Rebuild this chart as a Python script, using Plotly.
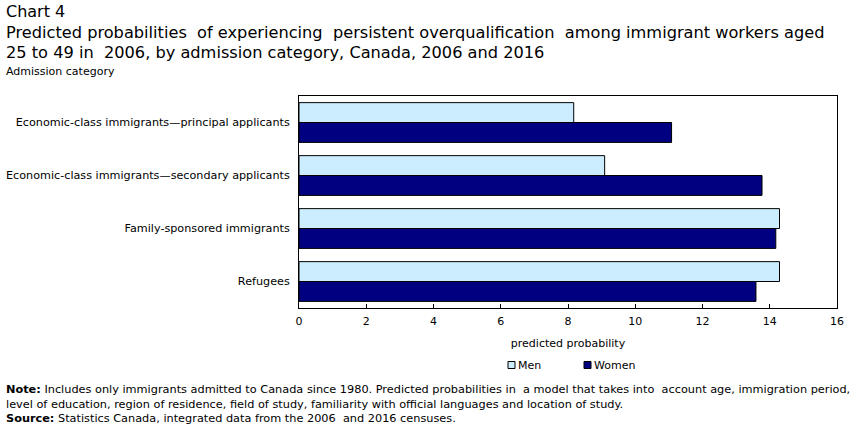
import plotly.graph_objects as go

categories = [
    "Economic-class immigrants—principal applicants",
    "Economic-class immigrants—secondary applicants",
    "Family-sponsored immigrants",
    "Refugees",
]
men = [8.17, 9.09, 14.29, 14.29]
women = [11.08, 13.77, 14.18, 13.59]
x_ticks = [0, 2, 4, 6, 8, 10, 12, 14, 16]
series_names = ["Men", "Women"]
series_colors = ["#CCECFF", "#000080"]

FONT = "DejaVu Sans"
W, H = 854, 428
L, R, T, B = 299, 17, 96, 120
PW, PH = W - L - R, H - T - B


def px(x):
    return (x - L) / PW


def py(y_top):
    return (H - y_top - B) / PH


fig = go.Figure()
for name, vals, col in zip(series_names, [men, women], series_colors):
    fig.add_trace(go.Bar(
        y=categories, x=vals, name=name, orientation="h", showlegend=False,
        marker=dict(color=col, line=dict(color="black", width=1)),
    ))

fig.update_layout(
    width=W, height=H,
    margin=dict(l=L, r=R, t=T, b=B, autoexpand=False),
    paper_bgcolor="white", plot_bgcolor="white",
    barmode="group", bargap=0.25, bargroupgap=0,
    font=dict(family=FONT, size=11, color="black"),
    showlegend=False,
    xaxis=dict(range=[0, 16], tickvals=x_ticks, ticks="inside", ticklen=4,
               tickcolor="black", showgrid=False, zeroline=False, automargin=False,
               showline=True, linecolor="black", linewidth=1, mirror=True,
               tickfont=dict(size=11), ticklabelstandoff=3,
               title=dict(text="predicted probability", font=dict(size=11), standoff=12)),
    yaxis=dict(autorange="reversed", showgrid=False, ticks="", showline=True, automargin=False,
               linecolor="black", linewidth=1, mirror=True,
               tickfont=dict(size=11.2), ticklabelstandoff=6),
)

texts = [
    ("Chart 4", 5, 11, 16),
    ("Predicted probabilities  of experiencing  persistent overqualification  among immigrant workers aged", 5, 32, 16.2),
    ("25 to 49 in  2006, by admission category, Canada, 2006 and 2016", 5, 52, 16.2),
    ("Admission category", 5, 71, 11),
    ("<b>Note:</b> Includes only immigrants admitted to Canada since 1980. Predicted probabilities in  a model that takes into  account age, immigration period,", 5, 389, 11.3),
    ("level of education, region of residence, field of study, familiarity with official languages and location of study.", 5, 404, 11.3),
    ("<b>Source:</b> Statistics Canada, integrated data from the 2006  and 2016 censuses.", 5, 418, 11.3),
]
for t, x, y, s in texts:
    fig.add_annotation(
        text=t, xref="paper", yref="paper", x=px(x), y=py(y),
        xanchor="left", yanchor="middle", showarrow=False, borderpad=0,
        font=dict(family=FONT, size=s, color="black"), align="left",
    )

# legend: small squares + labels
legend_pos = [(508, 365), (584, 365)]
for (name, col), (lx, ly) in zip(zip(series_names, series_colors), legend_pos):
    fig.add_shape(type="rect", xref="paper", yref="paper",
                  x0=px(lx), x1=px(lx + 7), y0=py(ly + 3.5), y1=py(ly - 3.5),
                  fillcolor=col, line=dict(color="black", width=1))
    fig.add_annotation(text=name, xref="paper", yref="paper", x=px(lx + 9), y=py(ly),
                       xanchor="left", yanchor="middle", showarrow=False, borderpad=0,
                       font=dict(family=FONT, size=11, color="black"))

fig.write_html("out.html")
